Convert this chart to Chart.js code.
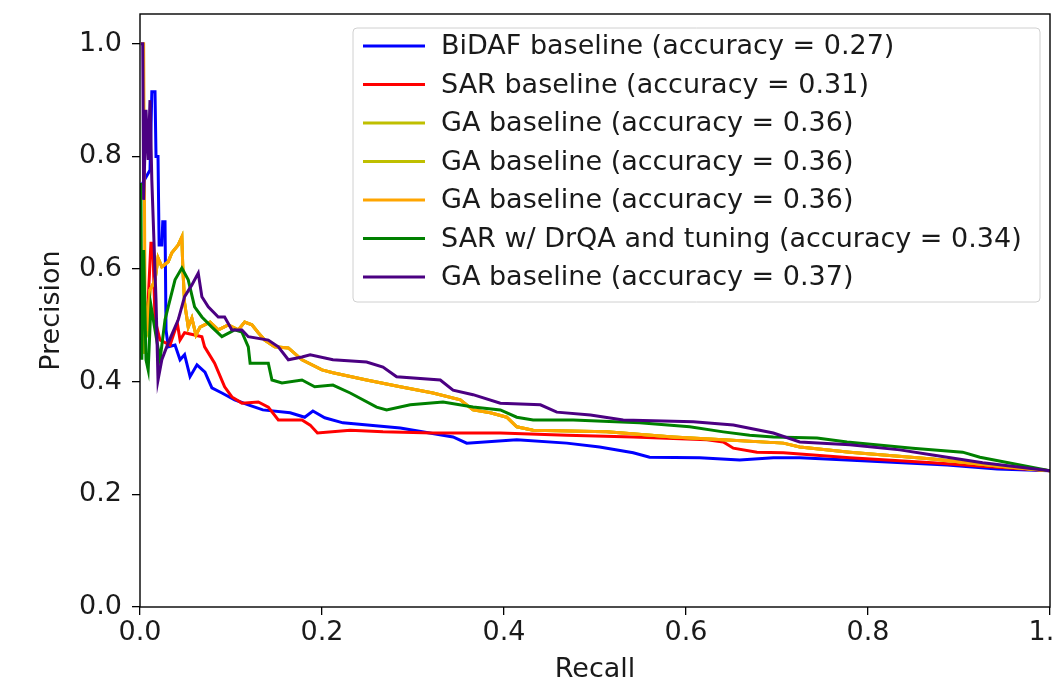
<!DOCTYPE html>
<html>
<head>
<meta charset="utf-8">
<script src="https://cdn.jsdelivr.net/npm/chart.js@4.4.1/dist/chart.umd.min.js"></script>
<style>
    html, body { margin: 0; padding: 0; background: #fff; overflow: hidden; }
    #wrap { position: absolute; left: 0; top: 0; width: 1100px; height: 690px; }
</style>
</head>
<body>
<div id="wrap"><canvas id="pr" width="1100" height="690"></canvas></div>
<script>
/* Precision / recall curves */
const xTicks = [0, 0.2, 0.4, 0.6, 0.8, 1.0];
const yTicks = [0, 0.2, 0.4, 0.6, 0.8, 1.0];

const labels = [
    'BiDAF baseline (accuracy = 0.27)',
    'SAR baseline (accuracy = 0.31)',
    'GA baseline (accuracy = 0.36)',
    'GA baseline (accuracy = 0.36)',
    'GA baseline (accuracy = 0.36)',
    'SAR w/ DrQA and tuning (accuracy = 0.34)',
    'GA baseline (accuracy = 0.37)',
];
const colors = ['#0000ff', '#ff0000', '#bfbf00', '#bfbf00', '#ffa500', '#008000', '#4b0082'];

const bidafRecall = [0.002, 0.011, 0.013, 0.0165, 0.0176, 0.0198, 0.021, 0.024, 0.025, 0.0275, 0.0286, 0.031, 0.0385, 0.044, 0.049, 0.055, 0.0626, 0.0714, 0.079, 0.090, 0.104, 0.119, 0.135, 0.165, 0.181, 0.190, 0.203, 0.223, 0.286, 0.344, 0.359, 0.414, 0.469, 0.505, 0.542, 0.560, 0.615, 0.659, 0.696, 0.725, 0.777, 0.816, 0.887, 0.942, 1.0];
const bidafPrecision = [0.75, 0.776, 0.915, 0.915, 0.80, 0.80, 0.643, 0.643, 0.684, 0.684, 0.492, 0.462, 0.465, 0.439, 0.448, 0.409, 0.43, 0.417, 0.389, 0.380, 0.368, 0.359, 0.350, 0.345, 0.337, 0.348, 0.336, 0.327, 0.318, 0.302, 0.291, 0.297, 0.291, 0.284, 0.274, 0.266, 0.265, 0.261, 0.265, 0.265, 0.261, 0.258, 0.252, 0.245, 0.242];

const sarRecall = [0.002, 0.009, 0.012, 0.014, 0.0165, 0.022, 0.033, 0.041, 0.044, 0.049, 0.060, 0.068, 0.071, 0.082, 0.093, 0.101, 0.112, 0.130, 0.141, 0.152, 0.178, 0.187, 0.195, 0.231, 0.267, 0.322, 0.396, 0.469, 0.542, 0.623, 0.641, 0.652, 0.678, 0.707, 0.780, 0.871, 0.926, 1.0];
const sarPrecision = [0.474, 0.545, 0.646, 0.646, 0.51, 0.474, 0.465, 0.504, 0.474, 0.487, 0.483, 0.480, 0.462, 0.433, 0.391, 0.373, 0.362, 0.364, 0.355, 0.332, 0.332, 0.323, 0.309, 0.314, 0.311, 0.309, 0.309, 0.305, 0.302, 0.297, 0.293, 0.282, 0.275, 0.274, 0.265, 0.256, 0.250, 0.242];

const gaRecall = [0.001, 0.004, 0.0055, 0.008, 0.011, 0.0165, 0.0198, 0.024, 0.031, 0.035, 0.042, 0.046, 0.047, 0.049, 0.053, 0.057, 0.0615, 0.066, 0.077, 0.086, 0.097, 0.108, 0.115, 0.123, 0.130, 0.137, 0.148, 0.163, 0.178, 0.200, 0.212, 0.249, 0.286, 0.322, 0.352, 0.366, 0.385, 0.403, 0.414, 0.432, 0.513, 0.586, 0.641, 0.707, 0.725, 0.780, 0.871, 0.945, 1.0];
const gaPrecision = [1.0, 1.0, 0.545, 0.49, 0.563, 0.58, 0.62, 0.604, 0.613, 0.629, 0.643, 0.657, 0.604, 0.540, 0.497, 0.513, 0.483, 0.497, 0.506, 0.492, 0.501, 0.492, 0.506, 0.501, 0.487, 0.474, 0.462, 0.460, 0.439, 0.421, 0.416, 0.403, 0.391, 0.380, 0.368, 0.350, 0.345, 0.337, 0.320, 0.314, 0.311, 0.302, 0.297, 0.291, 0.284, 0.275, 0.263, 0.250, 0.242];

// the two olive GA runs sit under the orange one; only their first points show
const gaAltRecall = [0.002, 0.004, 0.006, 0.008, 0.011, 0.0165, 0.0198, 0.024, 0.031, 0.035, 0.042, 0.046, 0.047, 0.049, 0.053, 0.057, 0.0615, 0.066, 0.077, 0.086, 0.097, 0.108, 0.115, 0.123, 0.130, 0.137, 0.148, 0.163, 0.178, 0.200, 0.212, 0.249, 0.286, 0.322, 0.352, 0.366, 0.385, 0.403, 0.414, 0.432, 0.513, 0.586, 0.641, 0.707, 0.725, 0.780, 0.871, 0.945, 1.0];
const gaAltPrecision = [0.55, 0.45, 0.50, 0.49, 0.563, 0.58, 0.62, 0.604, 0.613, 0.629, 0.643, 0.657, 0.604, 0.540, 0.497, 0.513, 0.483, 0.497, 0.506, 0.492, 0.501, 0.492, 0.506, 0.501, 0.487, 0.474, 0.462, 0.460, 0.439, 0.421, 0.416, 0.403, 0.391, 0.380, 0.368, 0.350, 0.345, 0.337, 0.320, 0.314, 0.311, 0.302, 0.297, 0.291, 0.284, 0.275, 0.263, 0.250, 0.242];

const drqaRecall = [0.001, 0.002, 0.004, 0.0066, 0.009, 0.012, 0.0165, 0.022, 0.0275, 0.031, 0.0385, 0.046, 0.053, 0.060, 0.068, 0.079, 0.090, 0.104, 0.112, 0.119, 0.121, 0.141, 0.145, 0.156, 0.178, 0.192, 0.212, 0.231, 0.260, 0.271, 0.297, 0.333, 0.366, 0.396, 0.414, 0.432, 0.476, 0.549, 0.604, 0.641, 0.670, 0.696, 0.744, 0.777, 0.849, 0.904, 0.923, 1.0];
const drqaPrecision = [0.753, 0.439, 0.634, 0.439, 0.421, 0.536, 0.492, 0.439, 0.510, 0.533, 0.581, 0.602, 0.581, 0.533, 0.515, 0.497, 0.480, 0.492, 0.488, 0.462, 0.433, 0.433, 0.403, 0.398, 0.403, 0.391, 0.394, 0.380, 0.355, 0.350, 0.359, 0.364, 0.355, 0.350, 0.337, 0.332, 0.332, 0.327, 0.320, 0.311, 0.305, 0.302, 0.300, 0.293, 0.282, 0.275, 0.266, 0.242];

const ga37Recall = [0.001, 0.003, 0.004, 0.0066, 0.009, 0.011, 0.013, 0.0154, 0.0176, 0.0198, 0.024, 0.031, 0.042, 0.049, 0.057, 0.064, 0.068, 0.075, 0.086, 0.093, 0.101, 0.112, 0.119, 0.141, 0.152, 0.163, 0.178, 0.187, 0.212, 0.249, 0.267, 0.282, 0.330, 0.344, 0.366, 0.396, 0.440, 0.458, 0.495, 0.531, 0.608, 0.652, 0.696, 0.725, 0.780, 0.835, 0.871, 0.926, 1.0];
const ga37Precision = [1.0, 1.0, 0.723, 0.883, 0.794, 0.90, 0.758, 0.647, 0.545, 0.403, 0.439, 0.469, 0.510, 0.551, 0.572, 0.593, 0.551, 0.533, 0.515, 0.515, 0.492, 0.492, 0.480, 0.474, 0.462, 0.439, 0.444, 0.448, 0.439, 0.435, 0.426, 0.409, 0.403, 0.385, 0.377, 0.362, 0.359, 0.346, 0.341, 0.332, 0.329, 0.323, 0.309, 0.293, 0.288, 0.279, 0.270, 0.256, 0.242];

const series = [
    [bidafRecall, bidafPrecision],
    [sarRecall, sarPrecision],
    [gaAltRecall, gaAltPrecision],
    [gaAltRecall, gaAltPrecision],
    [gaRecall, gaPrecision],
    [drqaRecall, drqaPrecision],
    [ga37Recall, ga37Precision],
];

const FONT = 'DejaVu Sans';
const TEXT = '#1a1a1a';
const FS = 27;

function pairs(rs, ps) {
    return rs.map((r, i) => ({ x: r, y: ps[i] }));
}

// axes frame: all four spines
const frame = {
    id: 'frame',
    afterDatasetsDraw(chart) {
        const { ctx, chartArea: a } = chart;
        ctx.save();
        ctx.strokeStyle = '#000';
        ctx.lineWidth = 1.4;
        ctx.strokeRect(a.left, a.top, a.right - a.left, a.bottom - a.top);
        ctx.restore();
    },
};

// matplotlib-style boxed legend, upper right
const boxLegend = {
    id: 'boxLegend',
    afterDraw(chart) {
        const ctx = chart.ctx;
        const x = 353, y = 28, w = 687, h = 274, r = 4;
        ctx.save();
        ctx.beginPath();
        ctx.roundRect(x, y, w, h, r);
        ctx.fillStyle = 'rgba(255,255,255,0.8)';
        ctx.fill();
        ctx.strokeStyle = '#d0d0d0';
        ctx.lineWidth = 1;
        ctx.stroke();
        ctx.font = `${FS}px "${FONT}"`;
        ctx.textBaseline = 'middle';
        chart.data.datasets.forEach((ds, i) => {
            const cy = 46 + i * 38.5;
            ctx.beginPath();
            ctx.moveTo(363, cy);
            ctx.lineTo(425, cy);
            ctx.strokeStyle = ds.borderColor;
            ctx.lineWidth = 3;
            ctx.stroke();
            ctx.fillStyle = TEXT;
            ctx.fillText(ds.label, 441, cy + 1);
        });
        ctx.restore();
    },
};

new Chart(document.getElementById('pr'), {
    type: 'line',
    data: {
        datasets: series.map(([rs, ps], i) => ({
            label: labels[i],
            data: pairs(rs, ps),
            borderColor: colors[i],
            backgroundColor: colors[i],
            borderWidth: 3,
            pointRadius: 0,
            tension: 0,
            fill: false,
            order: series.length - i,
        })),
    },
    options: {
        responsive: false,
        animation: false,
        layout: { padding: { left: 0, top: 14, right: 50, bottom: 0 } },
        plugins: { legend: { display: false }, tooltip: { enabled: false } },
        scales: {
            x: {
                type: 'linear',
                min: 0,
                max: 1,
                afterFit: (s) => { s.height = 83; s.paddingLeft = 0; s.paddingRight = 0; },
                afterBuildTicks: (s) => { s.ticks = xTicks.map((v) => ({ value: v })); },
                border: { display: false },
                grid: { drawOnChartArea: false, drawTicks: true, tickLength: 8, color: '#000', lineWidth: 1.3 },
                ticks: { color: TEXT, padding: 2, maxRotation: 0, font: { family: FONT, size: FS }, callback: (v) => v.toFixed(1) },
                title: { display: true, text: 'Recall', color: TEXT, padding: { top: 0, bottom: 4 }, font: { family: FONT, size: FS } },
            },
            y: {
                type: 'linear',
                min: 0,
                max: 1.053,
                afterFit: (s) => { s.width = 140; s.paddingTop = 0; s.paddingBottom = 0; },
                afterBuildTicks: (s) => { s.ticks = yTicks.map((v) => ({ value: v })); },
                border: { display: false },
                grid: { drawOnChartArea: false, drawTicks: true, tickLength: 8, color: '#000', lineWidth: 1.3 },
                ticks: { color: TEXT, padding: 10, font: { family: FONT, size: FS }, callback: (v) => v.toFixed(1) },
                title: { display: true, text: 'Precision', color: TEXT, padding: { top: 36, bottom: 0 }, font: { family: FONT, size: FS } },
            },
        },
    },
    plugins: [frame, boxLegend],
});
</script>
</body>
</html>
